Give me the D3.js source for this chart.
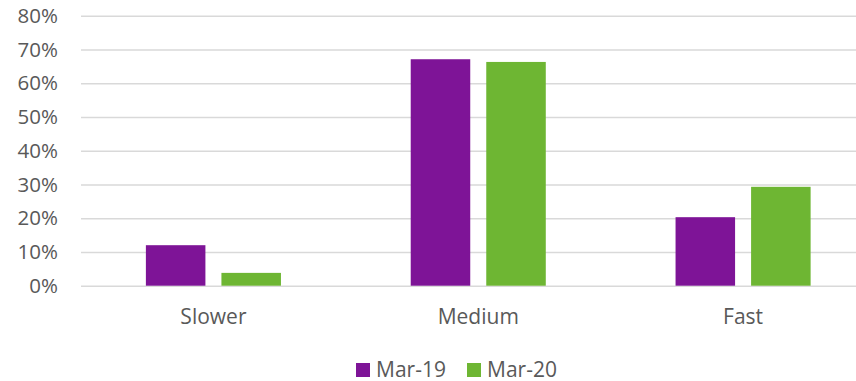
<!DOCTYPE html>
<html>
<head>
<meta charset="utf-8">
<script src="https://cdn.jsdelivr.net/npm/d3@7"></script>
<style>
  body { margin: 0; background: #fff; }
  svg { display: block; font-family: "Open Sans", sans-serif; }
</style>
</head>
<body>
<svg class="chart" width="856" height="381"></svg>
<script>
// data
var categories = ["Slower", "Medium", "Fast"];
var seriesNames = ["Mar-19", "Mar-20"];
var mar19 = [0.12, 0.671, 0.203];
var mar20 = [0.038, 0.663, 0.293];
var yTicks = [0, 0.1, 0.2, 0.3, 0.4, 0.5, 0.6, 0.7, 0.8];
var colors = ["#7e1497", "#6eb633"];

var svg = d3.select(".chart");
var textColor = "#595959";

var x0 = d3.scaleBand()
    .domain(categories)
    .range([81, 875.5])
    .paddingInner(0.49)
    .paddingOuter(0.245);

var x1 = d3.scaleBand()
    .domain(seriesNames)
    .range([0, x0.bandwidth()])
    .paddingInner(0.212)
    .paddingOuter(0);

var y = d3.scaleLinear()
    .domain([0, 0.8])
    .range([285.7, 15.7]);

// gridlines + tick labels
var yAxis = d3.axisLeft(y)
    .tickValues(yTicks)
    .tickFormat(d3.format(".0%"))
    .tickSize(-(875.5 - 81))
    .tickPadding(23);

var gy = svg.append("g")
    .attr("transform", "translate(81,0)")
    .call(yAxis);
gy.select(".domain").remove();
gy.selectAll(".tick line")
    .attr("stroke", "#d9d9d9")
    .attr("stroke-width", 1.5);
gy.selectAll(".tick text")
    .attr("fill", textColor)
    .attr("font-size", 20.5)
    .attr("font-family", "'Open Sans', sans-serif");

// bars
var data = categories.map(function(c, i) {
    return { cat: c, values: [
        { s: seriesNames[0], v: mar19[i] },
        { s: seriesNames[1], v: mar20[i] }
    ]};
});

var groups = svg.selectAll("g.grp")
    .data(data)
    .enter()
    .append("g")
    .attr("class", "grp")
    .attr("transform", function(d) { return "translate(" + x0(d.cat) + ",0)"; });

groups.selectAll("rect")
    .data(function(d) { return d.values; })
    .enter()
    .append("rect")
    .attr("x", function(d) { return x1(d.s); })
    .attr("y", function(d) { return y(d.v); })
    .attr("width", x1.bandwidth())
    .attr("height", function(d) { return y(0) - y(d.v); })
    .attr("fill", function(d, i) { return colors[i]; });

// category labels
var xAxis = d3.axisBottom(x0).tickSize(0).tickPadding(23);
var gx = svg.append("g")
    .attr("transform", "translate(0," + y(0) + ")")
    .call(xAxis);
gx.select(".domain").remove();
gx.selectAll(".tick text")
    .attr("fill", textColor)
    .attr("font-size", 21)
    .attr("font-family", "'Open Sans', sans-serif");

// legend
var legendX = [356, 467];
var legend = svg.selectAll("g.leg")
    .data(seriesNames)
    .enter()
    .append("g")
    .attr("class", "leg")
    .attr("transform", function(d, i) { return "translate(" + legendX[i] + ",363)"; });

legend.append("rect")
    .attr("width", 14)
    .attr("height", 14)
    .attr("fill", function(d, i) { return colors[i]; });

legend.append("text")
    .attr("x", 20)
    .attr("y", 13.5)
    .attr("fill", textColor)
    .attr("font-size", 21)
    .text(function(d) { return d; });
</script>
</body>
</html>
